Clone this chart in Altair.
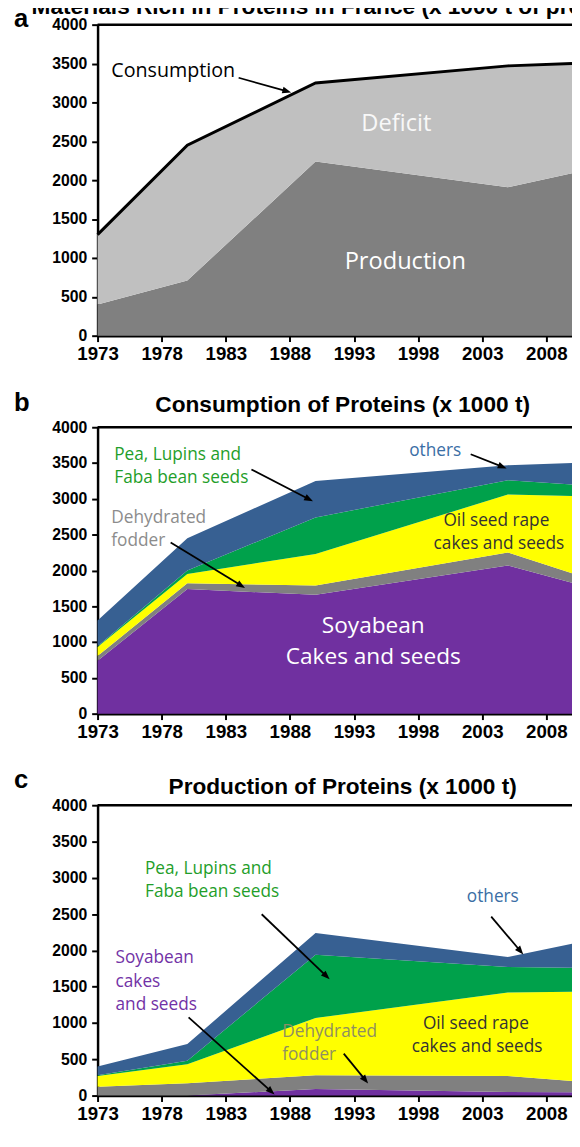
import math
import altair as alt
import pandas as pd

# ---------------- data ----------------
years = [1973, 1980, 1990, 2005, 2010]

# panel a : materials rich in proteins (x 1000 t)
a_consumption = [1300, 2450, 3250, 3470, 3500]
a_production = [400, 710, 2240, 1910, 2090]

# panel b : consumption of proteins by source (x 1000 t)
b_soy = [740, 1740, 1660, 2070, 1830]
b_fodder = [65, 80, 130, 180, 130]
b_oilseed = [125, 130, 440, 810, 1080]
b_pea = [10, 50, 510, 200, 160]
b_others = [360, 450, 510, 210, 300]

# panel c : production of proteins by source (x 1000 t)
c_soy = [0, 0, 90, 50, 45]
c_fodder = [120, 170, 190, 220, 155]
c_oilseed = [150, 260, 790, 1150, 1230]
c_pea = [10, 50, 870, 350, 330]
c_others = [120, 230, 300, 140, 330]

categories = ["Soyabean", "Dehydrated fodder", "Oil seed rape", "Pea, Lupins, Faba bean", "others"]
cat_colors = ["#7030A0", "#808080", "#FFFF00", "#00A14B", "#376092"]

x_ticks = [1973, 1978, 1983, 1988, 1993, 1998, 2003, 2008]
y_ticks = [0, 500, 1000, 1500, 2000, 2500, 3000, 3500, 4000]

# ---------------- layout ----------------
W = 482
X0, X1 = 1973, 2010
PXY = W / (X1 - X0)
HA, HB, HC = 316, 291, 295
TXT_FONT = "Open Sans"
AX_FONT = "Liberation Sans"

GREEN_T = "#1f9e2a"
BLUE_T = "#3a6ea5"
GREY_T = "#8c8c8c"
DARK_T = "#333333"
PURPLE_T = "#7232a6"
KHAKI_T = "#8f8f62"

xs = alt.Scale(domain=[X0, X1], nice=False, zero=False)
ys = alt.Scale(domain=[0, 4000], nice=False)

x_axis = alt.Axis(values=x_ticks, format="d", title=None, grid=False,
                  labelFont=AX_FONT, labelFontWeight="bold", labelFontSize=19,
                  labelColor="black", labelPadding=3, labelFlush=False,
                  domainColor="black", domainWidth=2.5, tickColor="black",
                  tickWidth=2, tickSize=6)
y_axis = alt.Axis(values=y_ticks, format="d", title=None, grid=False,
                  labelFont=AX_FONT, labelFontWeight="bold", labelFontSize=16,
                  labelColor="black", labelPadding=5,
                  domainColor="black", domainWidth=2.5, tickColor="black",
                  tickWidth=2, tickSize=6)

ARROW_SHAPE = "M0,0L0.38,1L-0.38,1Z"


def X(field):
    return alt.X(field, scale=xs, axis=x_axis)


def Y(field, **kw):
    return alt.Y(field, scale=ys, axis=y_axis, **kw)


def stacked_df(series):
    rows = []
    for k, (cat, vals) in enumerate(zip(categories, series)):
        for yr, v in zip(years, vals):
            rows.append({"year": yr, "val": v, "cat": cat, "ord": k})
    return pd.DataFrame(rows)


def arrow_layers(arrows, H):
    ppu = H / 4000
    rows = []
    for (x1, y1, x2, y2) in arrows:
        dx = (x2 - x1) * PXY
        dy = -(y2 - y1) * ppu
        L = math.hypot(dx, dy)
        ux, uy = dx / L, dy / L
        ex = x2 - 5 * ux / PXY
        ey = y2 + 5 * uy / ppu
        ang = math.degrees(math.atan2(ux, -uy)) % 360
        rows.append({"x1": x1, "y1": y1, "x2": ex, "y2": ey,
                     "tx": x2, "ty": y2, "ang": ang})
    df = pd.DataFrame(rows)
    line = alt.Chart(df).mark_rule(color="black", strokeWidth=1.8).encode(
        x=X("x1:Q"), y=Y("y1:Q"), x2="x2:Q", y2="y2:Q")
    head = alt.Chart(df).mark_point(shape=ARROW_SHAPE, filled=True, size=324,
                                    color="black", opacity=1, strokeWidth=0).encode(
        x=X("tx:Q"), y=Y("ty:Q"), angle=alt.Angle("ang:Q", scale=None))
    return [line, head]


def text_layer(items, align):
    df = pd.DataFrame(items, columns=["text", "year", "val", "color", "size"])
    return alt.Chart(df).mark_text(align=align, baseline="middle", font=TXT_FONT).encode(
        x=X("year:Q"), y=Y("val:Q"),
        text="text:N", color=alt.Color("color:N", scale=None),
        size=alt.Size("size:Q", scale=None))


def fixed_text(txt, x, y, size, align="left", weight="bold", font=AX_FONT):
    return alt.Chart(pd.DataFrame({"t": [txt]})).mark_text(
        align=align, baseline="alphabetic", font=font, fontWeight=weight,
        fontSize=size, color="black").encode(
        x=alt.value(x), y=alt.value(y), text="t:N")


def top_border():
    return alt.Chart(pd.DataFrame({"t": [0]})).mark_rule(
        color="black", strokeWidth=2.5).encode(
        x=alt.value(0), x2=alt.value(W + 5), y=alt.value(0))


# ---------------- panel a ----------------
dfa = pd.DataFrame({"year": years, "cons": a_consumption, "prod": a_production})
prod_area = alt.Chart(dfa).mark_area(color="#808080").encode(x=X("year:Q"), y=Y("prod:Q"))
def_area = alt.Chart(dfa).mark_area(color="#C0C0C0").encode(
    x=X("year:Q"), y=Y("prod:Q"), y2="cons:Q")
cons_line = alt.Chart(dfa).mark_line(color="black", strokeWidth=3).encode(
    x=X("year:Q"), y=Y("cons:Q"))

a_layers = [prod_area, def_area, cons_line, top_border(),
            text_layer([["Consumption", 1974.07, 3400, "black", 20]], "left"),
            text_layer([["Deficit", 1996.3, 2725, "#f8f8f8", 24],
                        ["Production", 1997.0, 950, "#ffffff", 24]], "center")]
a_layers += arrow_layers([(1984.0, 3317, 1988.1, 3128)], HA)
a_layers += [fixed_text("Materials Rich in Proteins in France (x 1000 t of proteins)", -67, -11, 23),
             fixed_text("a", -85, 2, 26)]
panel_a = alt.layer(*a_layers).properties(width=W, height=HA)


def stacked_panel(series, H, left_items, center_items, arrows, title, letter, ty, ly):
    df = stacked_df(series)
    area = alt.Chart(df).mark_area().encode(
        x=X("year:Q"),
        y=Y("val:Q", stack="zero"),
        color=alt.Color("cat:N", scale=alt.Scale(domain=categories, range=cat_colors), legend=None),
        order=alt.Order("ord:Q", sort="ascending"))
    layers = [area, top_border(), text_layer(left_items, "left"),
              text_layer(center_items, "center")]
    layers += arrow_layers(arrows, H)
    layers += [fixed_text(title, 249, ty, 23, align="center"),
               fixed_text(letter, -85, ly, 26)]
    return alt.layer(*layers).properties(width=W, height=H)


panel_b = stacked_panel(
    [b_soy, b_fodder, b_oilseed, b_pea, b_others], HB,
    [["Pea, Lupins and", 1974.3, 3609, GREEN_T, 17.5],
     ["Faba bean seeds", 1974.3, 3287, GREEN_T, 17.5],
     ["Dehydrated", 1974.07, 2736, GREY_T, 17.5],
     ["fodder", 1974.07, 2414, GREY_T, 17.5],
     ["others", 1997.3, 3669, BLUE_T, 17.5]],
    [["Oil seed rape", 2004.1, 2690, DARK_T, 17.5],
     ["cakes and seeds", 2004.3, 2368, DARK_T, 17.5],
     ["Soyabean", 1994.5, 1218, "#ffffff", 23],
     ["Cakes and seeds", 1994.5, 791, "#ffffff", 23]],
    [(1985.0, 3411, 1989.8, 2966), (1978.7, 2391, 1984.5, 1756),
     (2002.1, 3623, 2004.9, 3425)],
    "Consumption of Proteins (x 1000 t)", "b", -15, -16)

panel_c = stacked_panel(
    [c_soy, c_fodder, c_oilseed, c_pea, c_others], HC,
    [["Pea, Lupins and", 1976.7, 3126, GREEN_T, 17.5],
     ["Faba bean seeds", 1976.7, 2808, GREEN_T, 17.5],
     ["others", 2001.8, 2739, BLUE_T, 17.5],
     ["Soyabean", 1974.4, 1898, PURPLE_T, 17.5],
     ["cakes", 1974.4, 1570, PURPLE_T, 17.5],
     ["and seeds", 1974.4, 1251, PURPLE_T, 17.5],
     ["Dehydrated", 1987.4, 874, KHAKI_T, 17.5],
     ["fodder", 1987.4, 555, KHAKI_T, 17.5]],
    [["Oil seed rape", 2002.5, 987, DARK_T, 17.5],
     ["cakes and seeds", 2002.6, 669, DARK_T, 17.5]],
    [(1985.8, 2498, 1991.1, 1602), (2003.7, 2466, 2006.2, 1943),
     (1980.1, 1078, 1986.8, 15), (1992.2, 578, 1994.1, 168)],
    "Production of Proteins (x 1000 t)", "c", -11, -17)

chart = alt.vconcat(panel_a, panel_b, panel_c, spacing=93, bounds="flush").properties(
    padding={"left": 5, "top": -22, "right": -73, "bottom": -6}
).configure_view(stroke=None).configure(background="white")

chart.save("out.html", embed_options={"renderer": "svg", "actions": False})
